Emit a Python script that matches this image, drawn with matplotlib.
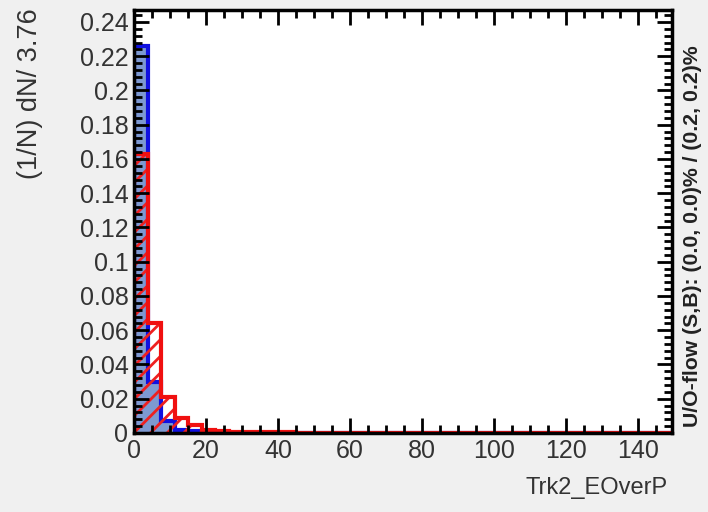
import numpy as np
import matplotlib
matplotlib.use("Agg")
import matplotlib.pyplot as plt
from matplotlib.ticker import MultipleLocator

bin_width = 3.76
n_bins = 40
signal = [0.226, 0.030, 0.007, 0.002, 0.001, 0.0004, 0.0002, 0.0001] + [0.0] * 32
background = [0.163, 0.064, 0.021, 0.009, 0.0045, 0.002, 0.0012, 0.0008, 0.0005,
              0.0004, 0.0003, 0.0003, 0.0002, 0.0002, 0.0002, 0.0001, 0.0001,
              0.0001, 0.0001, 0.0001] + [0.00005] * 20
x_label = "Trk2_EOverP"
y_label = "(1/N) dN/ 3.76"
overflow_text = "U/O-flow (S,B): (0.0, 0.0)% / (0.2, 0.2)%"

edges = np.arange(n_bins + 1) * bin_width

plt.rcParams['font.family'] = ['Liberation Sans', 'DejaVu Sans']
plt.rcParams['hatch.linewidth'] = 2.0

fig = plt.figure(figsize=(7.08, 5.12), dpi=100, facecolor='#f0f0f0')
ax = fig.add_axes([134 / 708, 1 - 433 / 512, (672 - 134) / 708, (433 - 10) / 512])
ax.set_facecolor('white')

ax.stairs(signal, edges, fill=True, facecolor='#7d99d1', edgecolor='none', linewidth=0)
ax.stairs(signal, edges, fill=False, edgecolor='#1010e0', linewidth=3)
ax.stairs(background, edges, fill=True, facecolor='none', edgecolor='#ee2020',
          hatch='//', linewidth=0)
ax.stairs(background, edges, fill=False, edgecolor='#f01010', linewidth=3)

ax.set_xlim(0, 149.5)
ax.set_ylim(0, 0.247)

ax.xaxis.set_major_locator(MultipleLocator(20))
ax.xaxis.set_minor_locator(MultipleLocator(5))
ax.yaxis.set_major_locator(MultipleLocator(0.02))
ax.yaxis.set_minor_locator(MultipleLocator(0.004))
ax.tick_params(which='both', direction='in', top=True, right=True,
               width=2, color='black')
ax.tick_params(which='major', length=11, labelsize=18, labelcolor='#333333', pad=4)
ax.tick_params(which='minor', length=6)
ax.set_yticks(np.arange(0, 0.241, 0.02))
ax.set_yticklabels(['0'] + ['%g' % v for v in np.arange(0.02, 0.241, 0.02)])
for s in ax.spines.values():
    s.set_linewidth(2.5)
    s.set_color('black')

fig.text(30 / 708, 1 - 8 / 512, y_label, rotation=90, ha='center', va='top',
         fontsize=19.5, color='#333333')
fig.text(668 / 708, 1 - 488 / 512, x_label, ha='right', va='center',
         fontsize=17, color='#333333')
fig.text(693 / 708, 1 - 236 / 512, overflow_text, rotation=90, ha='center',
         va='center', fontsize=15.3, fontweight='bold', color='#222222')

fig.savefig("out.png", dpi=100, facecolor=fig.get_facecolor())
